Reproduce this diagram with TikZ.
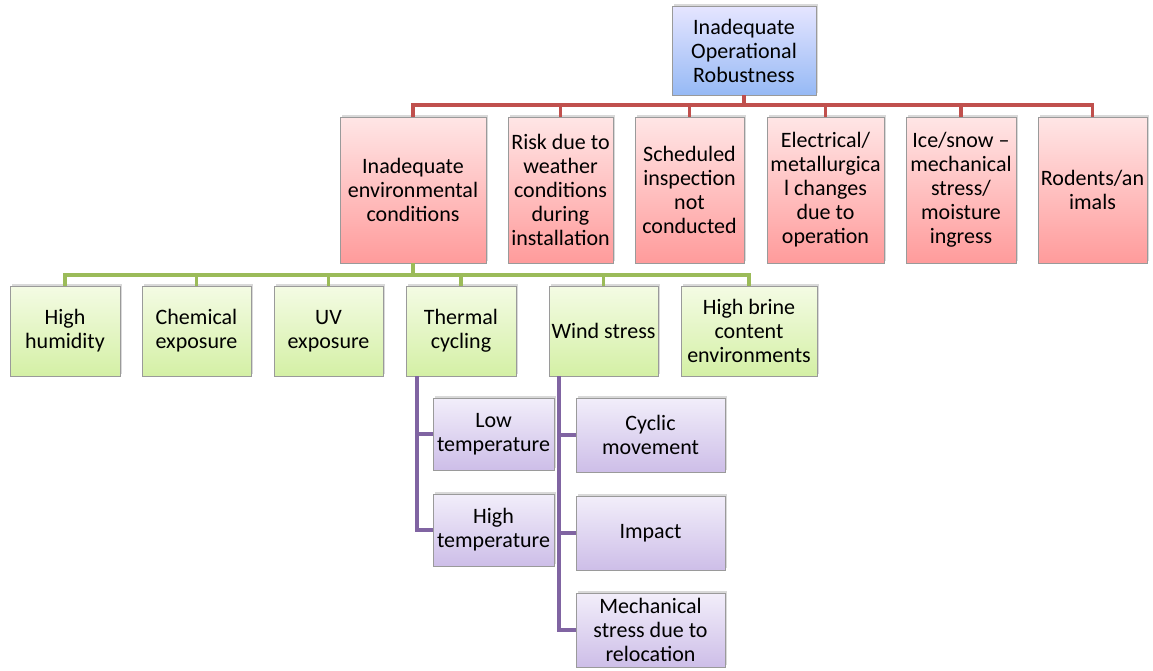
\documentclass[tikz,border=0pt]{standalone}
\usepackage{fontspec}
\setmainfont{Carlito}
\usetikzlibrary{shadows}
\definecolor{boxedge}{HTML}{9A9A9A}
\definecolor{redline}{HTML}{C0504D}
\definecolor{greenline}{HTML}{9BBB59}
\definecolor{purpleline}{HTML}{8064A2}
\tikzset{
  box/.style={draw=boxedge, line width=0.8, inner sep=0pt, align=center,
    font=\fontsize{22}{24}\selectfont,
    drop shadow={shadow xshift=2, shadow yshift=-2, opacity=0.3, fill=black!50}},
  rootbox/.style={box, top color=blue!10!white, bottom color={rgb,255:red,150;green,185;blue,245}},
  redbox/.style={box, top color={rgb,255:red,255;green,230;blue,230}, bottom color={rgb,255:red,255;green,155;blue,155}},
  greenbox/.style={box, top color={rgb,255:red,244;green,251;blue,228}, bottom color={rgb,255:red,212;green,240;blue,165}},
  purplebox/.style={box, top color={rgb,255:red,242;green,238;blue,250}, bottom color={rgb,255:red,205;green,190;blue,232}},
  redlink/.style={draw=redline, line width=3.5},
  greenlink/.style={draw=greenline, line width=3.5},
  purplelink/.style={draw=purpleline, line width=3.5},
}
\newcommand{\bx}[7]{% style, name, x1, y1, x2, y2, text
  \node[#1, minimum width={#5-#3}, minimum height={#6-#4}] (#2) at ({(#3+#5)/2},{(#4+#6)/2}) {#7};}
\begin{document}
\begin{tikzpicture}[x=1pt, y=-1pt]
\useasboundingbox (0,0) rectangle (1153,670);

% root
\bx{rootbox}{root}{672}{6}{816}{95}{Inadequate\\Operational\\Robustness}

% second level
\bx{redbox}{env}{340}{117}{486}{263}{Inadequate\\environmental\\conditions}
\bx{redbox}{risk}{508}{117}{613}{263}{Risk due to\\weather\\conditions\\during\\installation}
\bx{redbox}{sched}{635}{117}{744}{263}{Scheduled\\inspection\\not\\conducted}
\bx{redbox}{elec}{767}{117}{884}{263}{Electrical/\\metallurgica\\l changes\\due to\\operation}
\bx{redbox}{ice}{906}{117}{1016}{263}{Ice/snow –\\mechanical\\stress/\\moisture\\ingress}
\bx{redbox}{rod}{1038}{117}{1147}{263}{Rodents/an\\imals}

% third level
\bx{greenbox}{hum}{10}{286}{120}{376}{High\\humidity}
\bx{greenbox}{chem}{142}{286}{251}{376}{Chemical\\exposure}
\bx{greenbox}{uv}{274}{286}{383}{376}{UV\\exposure}
\bx{greenbox}{therm}{406}{286}{516}{376}{Thermal\\cycling}
\bx{greenbox}{wind}{549}{286}{658}{376}{Wind stress}
\bx{greenbox}{brine}{681}{286}{817}{376}{High brine\\content\\environments}

% fourth level
\bx{purplebox}{lowt}{433}{398}{554}{470}{Low\\temperature}
\bx{purplebox}{hight}{433}{494}{554}{566}{High\\temperature}
\bx{purplebox}{cyc}{576}{398}{725}{472}{Cyclic\\movement}
\bx{purplebox}{imp}{576}{496}{725}{570}{Impact}
\bx{purplebox}{mech}{576}{593}{725}{667}{Mechanical\\stress due to\\relocation}

% bus lines
\coordinate (rbus) at (0,105);
\coordinate (gbus) at (0,275);
\coordinate (tv) at (417,0);
\coordinate (wv) at (559,0);

\foreach \c in {env,risk,sched,elec,ice,rod}
  \draw[redlink] (root.south) -- (root.south |- rbus) -| (\c.north);
\foreach \c in {hum,chem,uv,therm,wind,brine}
  \draw[greenlink] (env.south) -- (env.south |- gbus) -| (\c.north);
\foreach \c in {lowt,hight}
  \draw[purplelink] (therm.south -| tv) |- (\c.west);
\foreach \c in {cyc,imp,mech}
  \draw[purplelink] (wind.south -| wv) |- (\c.west);
\end{tikzpicture}
\end{document}
